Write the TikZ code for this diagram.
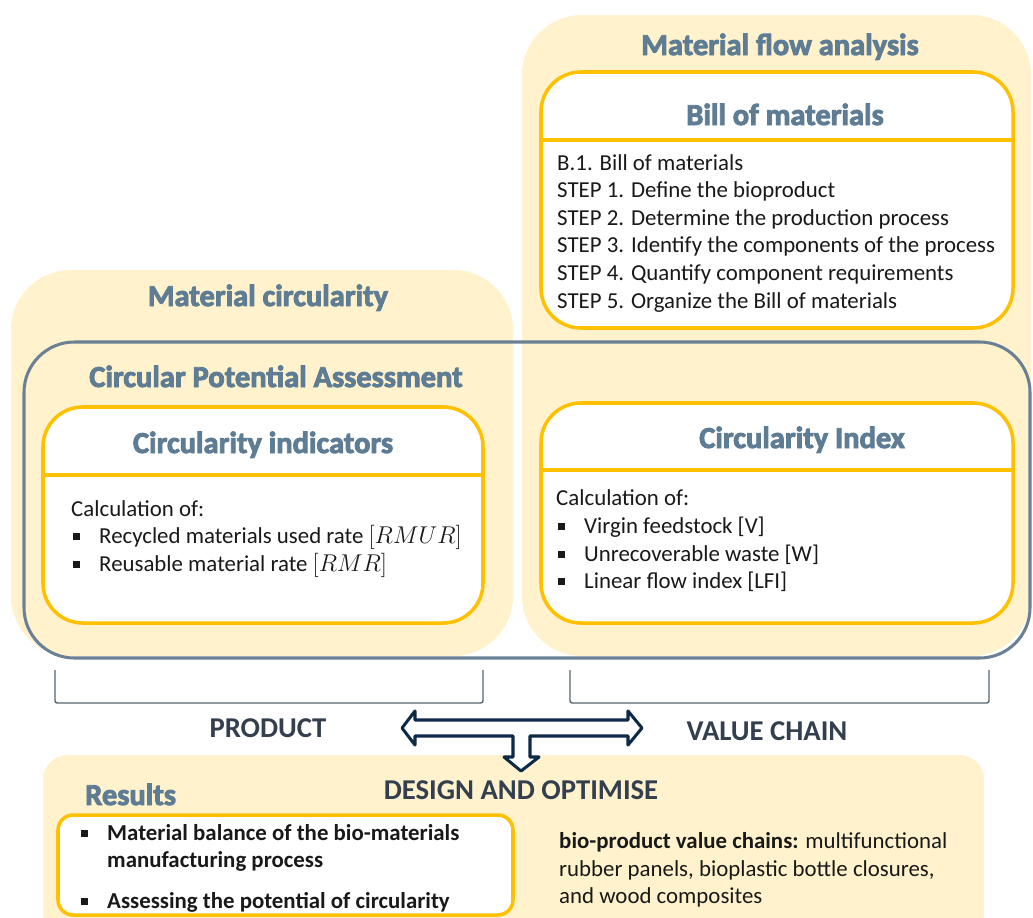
\documentclass[tikz,border=0pt]{standalone}
\usepackage{fontspec}
\setmainfont{Carlito}
\newfontfamily\headfont{Carlito}[BoldFeatures={FakeBold=3}]
\definecolor{cream}{HTML}{FFF2CC}
\definecolor{gold}{HTML}{FFC000}
\definecolor{slate}{HTML}{5E7C94}
\definecolor{frame}{HTML}{6A8195}
\definecolor{navy}{HTML}{0F2A47}
\definecolor{ink}{HTML}{333F4F}
\definecolor{brk}{HTML}{56636F}
\newcommand\sqbul{\llap{\rule[2.8pt]{5.5pt}{5.5pt}\hspace{16.5pt}}}
\tikzset{
  panel/.style={fill=cream, rounded corners=51pt},
  outer/.style={draw=frame, line width=2.6pt, rounded corners=43pt},
  card/.style={draw=gold, fill=white, line width=3pt, rounded corners=34pt},
  rescard/.style={draw=gold, fill=white, line width=3pt, rounded corners=13pt},
  sep/.style={draw=gold, line width=3pt},
  brace/.style={draw=brk, line width=1.2pt, rounded corners=2pt},
  dblarrow/.style={draw=navy, fill=white, line width=2.6pt, line join=round},
  ttl/.style={text=slate, anchor=base, inner sep=0pt, font=\headfont\bfseries\fontsize{26}{30}\selectfont},
  hdr/.style={text=ink, anchor=base, inner sep=0pt, font=\bfseries\fontsize{24.5}{29}\selectfont},
  txt/.style={text=black!90, anchor=base west, inner sep=0pt, font=\fontsize{19.5}{23.5}\selectfont},
}
\begin{document}
\begin{tikzpicture}[x=0.03cm,y=-0.03cm]
  \clip (0,0) rectangle (1033,917);
  % cream areas and the assessment frame
  \fill[panel] (11,270) rectangle (513,656);
  \fill[panel] (522,15) rectangle (1031,656);
  \draw[outer] (24,342) rectangle (1030,658);
  \node[ttl] (mfa) at (780,55) {Material flow analysis};
  \node[ttl] (mc) at (268,306) {Material circularity};
  \node[ttl] (cpa) at (276,387) {Circular Potential Assessment};

  % bill of materials
  \draw[card] (541,72) rectangle (1013,328);
  \draw[sep] (541,140) -- (1013,140);
  \node[ttl] (bom) at (785,125) {Bill of materials};
  \foreach \line [count=\i] in {B.1. Bill of materials,
      STEP 1. Define the bioproduct,
      STEP 2. Determine the production process,
      STEP 3. Identify the components of the process,
      STEP 4. Quantify component requirements,
      STEP 5. Organize the Bill of materials}
    \node[txt] (bom\i) at (557,{170+27.6*(\i-1)}) {\line};

  % circularity indicators
  \draw[card] (43,407) rectangle (483,623);
  \draw[sep] (43,475) -- (483,475);
  \node[ttl] (ci) at (263,453) {Circularity indicators};
  \node[txt] (ci1) at (71,516) {Calculation of:};
  \node[txt] (ci2) at (99,543) {\sqbul Recycled materials used rate $[RMUR]$};
  \node[txt] (ci3) at (99,571) {\sqbul Reusable material rate $[RMR]$};

  % circularity index
  \draw[card] (541,403) rectangle (1013,623);
  \draw[sep] (541,470) -- (1013,470);
  \node[ttl] (cx) at (802,448) {Circularity Index};
  \node[txt] (cx1) at (556,505) {Calculation of:};
  \node[txt] (cx2) at (584,533) {\sqbul Virgin feedstock [V]};
  \node[txt] (cx3) at (584,561) {\sqbul Unrecoverable waste [W]};
  \node[txt] (cx4) at (584,588) {\sqbul Linear flow index [LFI]};

  % brackets and scope labels
  \draw[brace] (55,670) -- (55,703) -- (483,703) -- (483,670);
  \draw[brace] (570,670) -- (570,703) -- (989,703) -- (989,670);
  \node[hdr] (prod) at (268,737) {PRODUCT};
  \node[hdr] (vc) at (767,740) {VALUE CHAIN};

  % results
  \fill[cream, rounded corners=21pt] (43,755) rectangle (984,940);
  \draw[dblarrow] (402,728) -- (415,711) -- (415,720) -- (628,720) -- (628,711)
    -- (642,728) -- (628,745) -- (628,736) -- (530,736) -- (530,757)
    -- (539,757) -- (521,771) -- (504,757) -- (513,757) -- (513,736)
    -- (415,736) -- (415,745) -- cycle;
  \node[hdr] (dao) at (521,799) {DESIGN AND OPTIMISE};
  \node[ttl, anchor=base west] (res) at (85,805) {Results};
  \draw[rescard] (58,815) rectangle (513,915);
  \node[txt, font=\bfseries\fontsize{19.5}{23.5}\selectfont] (r1) at (107,840) {\sqbul Material balance of the bio-materials};
  \node[txt, font=\bfseries\fontsize{19.5}{23.5}\selectfont] (r2) at (107,867) {manufacturing process};
  \node[txt, font=\bfseries\fontsize{19.5}{23.5}\selectfont] (r3) at (107,908) {\sqbul Assessing the potential of circularity};
  \node[txt] (v1) at (559,848) {\textbf{bio-product value chains:} multifunctional};
  \node[txt] (v2) at (559,876) {rubber panels, bioplastic bottle closures,};
  \node[txt] (v3) at (559,903) {and wood composites};
\end{tikzpicture}
\end{document}
